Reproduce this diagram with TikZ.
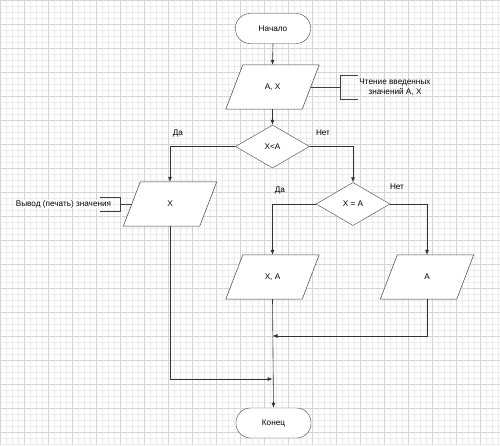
\documentclass[tikz,border=0pt]{standalone}
\usepackage{fontspec}
\setmainfont{Liberation Sans}
\usetikzlibrary{shapes.geometric,arrows.meta}
\begin{document}
\begin{tikzpicture}[x=1pt,y=-1pt,
  every node/.style={font=\fontsize{8.2}{9.7}\selectfont},
  term/.style={draw=black!75, fill=white, rounded corners=14.5pt, minimum width=75pt, minimum height=30pt, inner sep=0pt},
  io/.style={minimum width=76pt, minimum height=44pt, inner sep=0pt},
  iodraw/.style={draw=black!75, fill=white, line width=0.5pt},
  dec/.style={draw=black!75, fill=white, diamond, minimum width=74pt, minimum height=43pt, inner sep=0pt, aspect=1.7},
  flow/.style={draw=black!80, line width=0.6pt},
  arr/.style={flow, -{Latex[length=5pt,width=4pt]}},
  lbl/.style={inner sep=0pt},
  cmt/.style={draw=black!75, line width=0.6pt}
]
\useasboundingbox (0,0) rectangle (500,445);
\fill[white] (0,0) rectangle (500,445);
\foreach \i in {0,6,...,498} {\draw[black!8, line width=0.4pt] (\i,0) -- (\i,445);}
\foreach \i in {0,6,...,444} {\draw[black!8, line width=0.4pt] (0,\i) -- (500,\i);}
\foreach \i in {0,24,...,498} {\draw[black!17, line width=0.4pt] (\i,0) -- (\i,445);}
\foreach \i in {0,24,...,444} {\draw[black!17, line width=0.4pt] (0,\i) -- (500,\i);}

\node[term] (start) at (273,28.5) {Начало};
\node[dec] (d1) at (272.5,146.5) {X<A};
\node[dec] (d2) at (353,204) {X = A};
\node[term] (end) at (273.5,423) {Конец};

\foreach \n/\x/\y/\t in {in/272.5/87/{A, X}, outx/170/204/X, outxa/272.5/277/{X, A}, outa/427/277/A} {
  \node[io] (\n) at (\x,\y) {};
  \draw[iodraw] ([xshift=8.5pt]\n.north west) -- ([xshift=8.5pt]\n.north east)
     -- ([xshift=-8.5pt]\n.south east) -- ([xshift=-8.5pt]\n.south west) -- cycle;
  \node at (\n.center) {\t};
}

\coordinate (j1) at (272.5,336);
\coordinate (j2) at (272.5,379);

\draw[arr] (start.south) -- (in.north);
\draw[arr] (in.south) -- (d1.north);
\draw[arr] (d1.west) -| (outx.north);
\draw[arr] (d1.east) -| (d2.north);
\draw[arr] (d2.west) -| (outxa.north);
\draw[arr] (d2.east) -| (outa.north);
\draw[arr] (outxa.south) -- (end.north);
\draw[arr] (outa.south) |- (j1);
\draw[arr] (outx.south) |- (j2);

\node[lbl] (l1) at (178,133) {Да};
\node[lbl] (l2) at (323,133) {Нет};
\node[lbl] (l3) at (280,190) {Да};
\node[lbl] (l4) at (397,187) {Нет};

% comments
\coordinate (c1a) at (340,87);
\draw[cmt] (in.east) -- (c1a);
\draw[cmt] (358,75) -- (340,75) -- (340,99) -- (358,99);
\node[align=center, lbl] (c1) at (395,87.5) {Чтение введенных\\значений A, X};

\coordinate (c2a) at (120,204);
\draw[cmt] (outx.west) -- (c2a);
\draw[cmt] (100,197) -- (120,197) -- (120,211) -- (100,211);
\node[lbl, fill=white, inner xsep=1pt] (c2) at (63.5,204) {Вывод (печать) значения};
\end{tikzpicture}
\end{document}
